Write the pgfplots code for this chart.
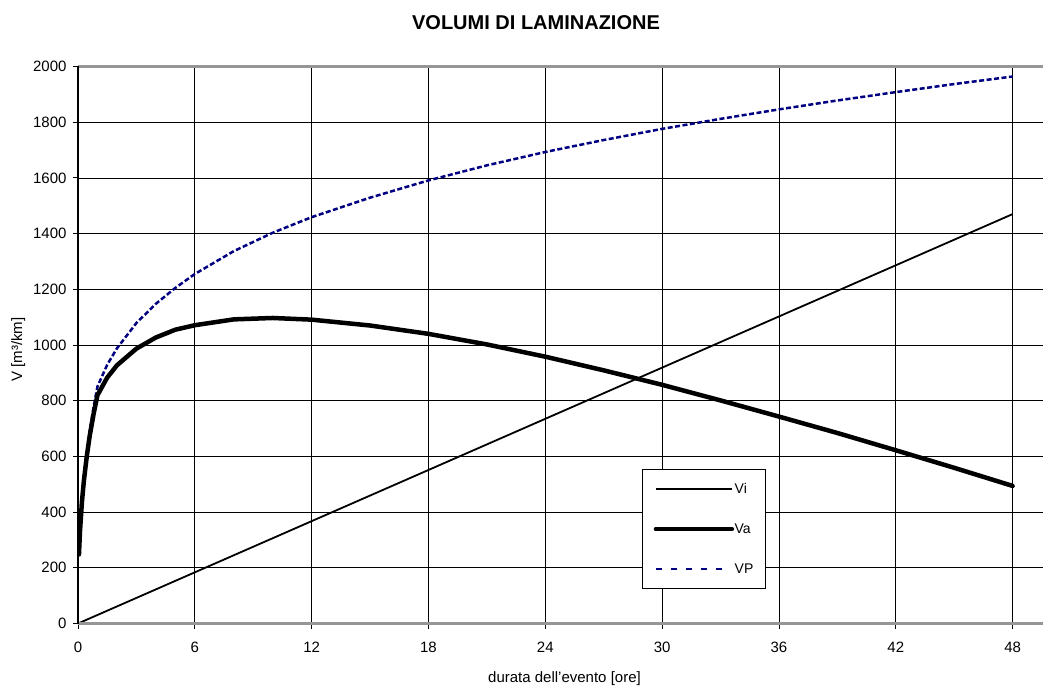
\documentclass[border=0pt]{standalone}
\usepackage{fontspec}
\setmainfont{Liberation Sans}
\usepackage{pgfplots}
\pgfplotsset{compat=1.18}
\definecolor{vpblue}{RGB}{0,0,128}
\definecolor{framegray}{RGB}{150,150,150}
\begin{document}
\begin{tikzpicture}[x=1pt,y=1pt,font=\fontsize{15}{18}\selectfont]
\path[use as bounding box] (0pt,0pt) rectangle (1043pt,688pt);
\begin{axis}[
  name=ax,
  at={(78pt,64.5pt)}, anchor=south west,
  scale only axis, width=965pt, height=557pt,
  xmin=0, xmax=49.56, ymin=0, ymax=2000,
  xtick={0,6,...,48}, ytick={0,200,...,2000},
  grid=major, major grid style={black, line width=0.7pt},
  axis line style={draw=none},
  tick align=outside, tick pos=left, major tick length=5pt,
  tick style={black, line width=0.8pt},
  /pgf/number format/assume math mode=true,
  /pgf/number format/1000 sep={},
  ticklabel style={font=\fontsize{15}{18}\selectfont},
  xticklabel style={yshift=-9.8pt},
  yticklabel style={xshift=-3pt},
  legend style={at={(rel axis cs:0.5841,0.2774)}, anchor=north west, draw=black, line width=0.8pt, fill=white,
    inner xsep=11.6pt, inner ysep=12.5pt, row sep=27pt, column sep=0pt,
    font=\fontsize{14}{16}\selectfont, nodes={inner xsep=0.5pt, inner ysep=1pt}},
  legend cell align=left,
  legend image code/.code={\draw[#1] (0pt,0pt) -- (76pt,0pt);},
]
\addplot[black, line width=1.8pt, forget plot] coordinates {(0,0) (48,1470)};
\addplot[vpblue, line width=2.5pt, dash pattern=on 5pt off 2.5pt, forget plot] coordinates {
(0.05,250) (0.1,332) (0.2,441) (0.3,520) (0.45,614) (0.6,691) (0.8,777) (1,851) (1.5,929) (2,988) (3,1079) (4,1148) (5,1205) (6,1255) (8,1337) (10,1403) (12,1459) (15,1529) (18,1591) (21,1645) (24,1693) (27,1736) (30,1776) (33,1812) (36,1846) (39,1878) (42,1908) (45,1937) (48,1964)};
\addplot[black, line width=4.5pt, line join=round, line cap=round, forget plot] coordinates {
(0.05,248) (0.1,329) (0.2,435) (0.3,511) (0.45,600) (0.6,673) (0.8,752) (1,820) (1.5,883) (2,927) (3,987) (4,1027) (5,1055) (6,1071) (8,1092) (10,1097) (12,1091) (15,1070) (18,1040) (21,1002) (24,958) (27,909) (30,857) (33,801) (36,743) (39,684) (42,622) (45,559) (48,494)};
\addlegendimage{black, line width=1.8pt}
\addlegendentry{Vi}
\addlegendimage{black, line width=4.5pt, line cap=round}
\addlegendentry{Va}
\addlegendimage{vpblue, line width=2.5pt, dash pattern=on 6pt off 9pt on 6pt off 9pt on 6pt off 9pt on 6pt off 9pt on 6pt off 20pt}
\addlegendentry{VP}
\end{axis}
\draw[framegray, line width=2.2pt] (ax.north west) -- (ax.north east);
\draw[framegray, line width=2.2pt] (ax.south west) -- (ax.south east);
\draw[black, line width=2pt] (ax.south west) -- (ax.north west);
\node[font=\bfseries\fontsize{20}{24}\selectfont, anchor=base] at (536pt,658.7pt) {VOLUMI DI LAMINAZIONE};
\node[anchor=base] at (564.5pt,5.5pt) {durata dell'evento [ore]};
\node[rotate=90, anchor=base] at (22pt,338.5pt) {V [m³/km]};
\end{tikzpicture}
\end{document}
